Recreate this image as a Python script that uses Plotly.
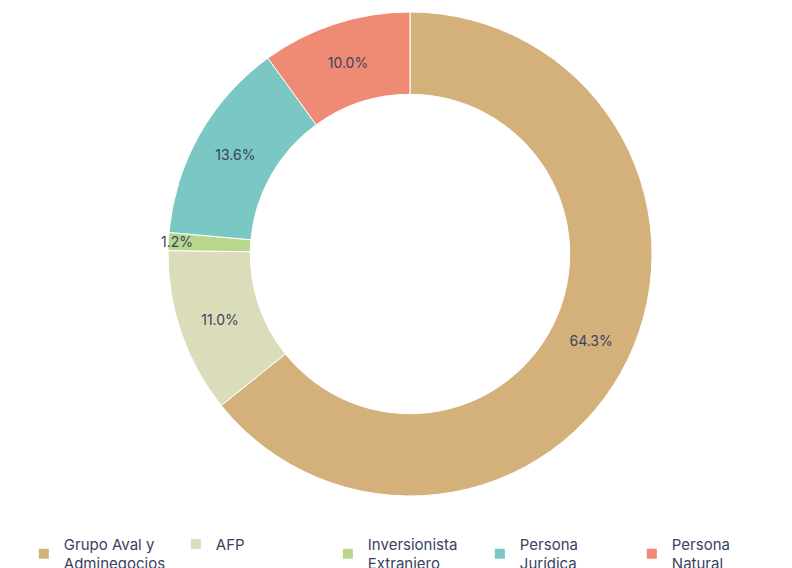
import plotly.graph_objects as go

labels = ["Grupo Aval y<br>Adminegocios", "AFP", "Inversionista<br>Extranjero",
          "Persona<br>Jurídica", "Persona<br>Natural"]
values = [64.3, 11.0, 1.2, 13.6, 10.0]
colors = ["#D4B07B", "#DBDCBA", "#B9D78C", "#7AC7C4", "#EF8B75"]

text_color = "#3B4160"

fig = go.Figure(go.Pie(
    labels=labels,
    values=values,
    hole=0.66,
    sort=False,
    direction="clockwise",
    rotation=0,
    marker={'colors': colors, 'line': {'color': "white", 'width': 1}},
    texttemplate="%{value:.1f}%",
    textposition="inside",
    insidetextorientation="horizontal",
    textfont={'color': text_color, 'size': 14},
))

fig.update_layout(
    width=792, height=568,
    margin={'t': 4, 'b': 80, 'l': 12, 'r': 0},
    font={'family': "Inter, Open Sans, sans-serif", 'color': text_color, 'size': 14},
    paper_bgcolor="white",
    uniformtext={'minsize': 14, 'mode': 'show'},
    legend={
        'orientation': 'h',
        'xref': 'container', 'yref': 'container',
        'x': 0.02, 'xanchor': 'left',
        'y': 0.085, 'yanchor': 'top',
        'font': {'size': 15, 'color': text_color},
        'entrywidth': 107, 'entrywidthmode': 'pixels',
        'itemsizing': 'constant',
    },
)

fig.write_html("out.html")
